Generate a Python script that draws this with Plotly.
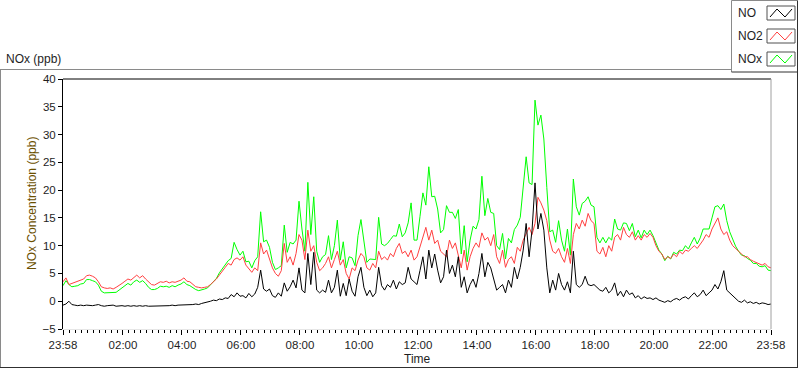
import pandas as pd
import plotly.graph_objects as go

# ---------------- data (6-minute samples from 23:58 to 23:58 next day) ----------------
start_time = "2012-01-01 23:58"
end_time = "2012-01-02 23:58"

no_ppb = [
    -0.7, -0.5, 0.0, -0.6, -0.7, -0.8, -0.7, -0.8, -0.7, -0.8,
    -0.8, -0.7, -0.6, -0.8, -0.9, -0.8, -0.8, -0.7, -0.9, -0.8,
    -0.8, -0.9, -0.8, -0.9, -0.8, -0.9, -0.8, -0.9, -0.8, -0.9,
    -0.9, -0.8, -0.9, -0.8, -0.8, -0.9, -0.8, -0.7, -0.8, -0.7,
    -0.7, -0.7, -0.6, -0.7, -0.6, -0.5, -0.6, -0.4, -0.3, -0.2,
    0.0, 0.2, 0.1, 0.4, 0.3, 0.6, 0.5, 1.2, 0.8, 1.5,
    0.9, 1.0, 0.6, 1.4, 0.8, 1.3, 2.5, 5.6, 2.2, 1.8,
    2.2, 1.0, 0.7, 1.5, 0.9, 3.3, 1.8, 2.6, 3.8, 2.4,
    6.0, 2.0, 1.5, 8.6, 3.0, 8.8, 2.0, 1.5, 2.0, 1.6,
    3.8, 1.5, 2.5, 5.6, 0.9, 3.2, 1.0, 4.0, 1.8, 0.9,
    4.4, 6.1, 2.5, 1.0, 2.0, 0.8, 1.5, 6.1, 2.8, 2.0,
    3.0, 2.5, 3.8, 2.2, 3.5, 3.0, 3.3, 6.1, 4.0, 3.5,
    3.0, 5.5, 8.0, 4.0, 9.2, 6.0, 8.5, 5.6, 3.3, 4.4,
    9.2, 5.0, 6.5, 4.4, 8.0, 2.5, 4.4, 1.5, 3.0, 4.0,
    2.5, 5.0, 8.6, 4.4, 7.0, 6.0, 3.8, 2.0, 2.5, 3.0,
    1.5, 3.8, 2.5, 6.1, 4.0, 6.1, 9.2, 14.0, 8.0, 12.8,
    21.3, 13.0, 15.8, 12.8, 6.0, 1.5, 3.8, 2.0, 5.0, 3.0,
    2.0, 3.5, 1.5, 9.0, 3.0, 2.5, 3.0, 4.5, 3.0, 2.8,
    3.0, 2.5, 2.0, 1.8, 2.5, 1.5, 2.0, 3.3, 1.0, 1.8,
    0.8, 2.0, 1.2, 1.5, 0.6, 1.0, 0.4, 0.8, 0.5, 0.6,
    0.3, 0.6, 0.2, 0.0, -0.2, 0.1, -0.1, 0.3, 0.5, 0.2,
    0.6, 0.8, 0.4, 1.0, 1.5, 0.8, 1.2, 2.0, 1.0, 1.5,
    2.0, 3.0, 2.2, 3.5, 5.5, 2.0, 1.5, 1.0, 0.4, 0.0,
    -0.2, 0.2, -0.3, -0.1, -0.4, -0.2, -0.5, -0.3, -0.4, -0.6,
    -0.5,
]

no2_ppb = [
    3.5, 4.2, 3.0, 3.2, 3.4, 3.6, 3.8, 4.0, 4.6, 4.7,
    4.5, 4.2, 3.5, 2.6, 2.4, 2.3, 2.4, 2.2, 2.5, 2.8,
    3.2, 3.6, 4.0, 3.8, 4.3, 4.7, 4.2, 4.6, 4.0, 3.4,
    3.0, 2.9, 3.2, 3.5, 3.4, 3.6, 3.3, 3.5, 3.4, 3.6,
    3.8, 4.2, 3.6, 3.5, 3.0, 2.6, 2.5, 2.4, 2.5, 2.6,
    3.0, 3.5, 4.0, 4.7, 5.5, 6.1, 6.8, 6.5, 7.5, 7.8,
    7.4, 8.0, 6.5, 5.8, 5.2, 6.0, 5.5, 10.5, 8.5, 9.2,
    7.5, 6.0, 5.0, 4.5, 5.5, 10.4, 7.0, 8.0, 6.5, 8.6,
    12.0, 11.0, 7.5, 12.8, 9.0, 10.0, 7.0, 5.5, 6.0, 6.8,
    8.0, 6.0, 7.5, 9.0, 6.5, 7.5, 5.0, 4.0, 6.0, 5.5,
    7.4, 8.6, 8.0, 6.0, 5.6, 6.8, 6.0, 9.0, 7.5, 8.0,
    7.4, 8.6, 8.0, 9.5, 10.4, 8.6, 9.0, 8.0, 9.2, 7.4,
    8.0, 9.7, 11.5, 13.3, 11.0, 12.8, 10.4, 11.0, 9.0, 8.5,
    8.0, 11.0, 9.5, 10.5, 8.5, 6.0, 9.2, 5.6, 8.0, 9.5,
    10.5, 9.7, 12.3, 11.0, 11.5, 10.0, 12.0, 8.0, 6.8, 9.2,
    6.1, 7.5, 8.0, 6.8, 9.7, 9.0, 11.0, 12.3, 13.3, 12.0,
    14.0, 18.7, 17.7, 16.4, 14.5, 11.0, 9.0, 8.6, 9.5, 8.0,
    7.0, 9.5, 6.8, 12.0, 14.0, 13.0, 14.6, 13.5, 15.8, 14.5,
    14.0, 9.0, 8.5, 9.7, 8.0, 10.0, 9.0, 11.5, 12.0, 11.0,
    13.3, 12.0, 11.5, 12.5, 11.0, 11.8, 11.0, 12.0, 11.5, 12.2,
    11.5, 10.0, 9.0, 8.5, 7.5, 8.0, 7.7, 8.5, 8.0, 9.0,
    8.5, 9.2, 9.0, 9.5, 10.0, 9.5, 10.2, 11.0, 12.0, 11.5,
    13.0, 14.0, 15.0, 13.0, 12.0, 12.5, 11.0, 10.0, 9.5, 9.0,
    8.5, 8.0, 8.0, 7.5, 7.2, 7.0, 6.8, 6.5, 6.8, 6.2,
    6.0,
]

nox_ppb = [
    2.8, 3.7, 3.0, 2.6, 2.7, 2.8, 3.1, 3.2, 3.9, 3.9,
    3.7, 3.5, 2.9, 1.8, 1.5, 1.5, 1.6, 1.5, 1.6, 2.0,
    2.4, 2.7, 3.2, 2.9, 3.5, 3.8, 3.4, 3.7, 3.2, 2.5,
    2.1, 2.1, 2.3, 2.7, 2.6, 2.7, 2.5, 2.8, 2.6, 2.9,
    3.1, 3.5, 3.0, 2.8, 2.4, 2.1, 1.9, 2.0, 2.2, 2.4,
    3.0, 3.7, 4.1, 5.1, 5.8, 6.7, 7.3, 7.7, 10.6, 9.3,
    8.3, 9.0, 7.1, 7.2, 6.0, 7.3, 8.0, 16.1, 10.7, 11.0,
    9.7, 7.0, 5.7, 6.0, 6.4, 13.7, 8.8, 10.6, 10.3, 11.0,
    18.0, 13.0, 9.0, 21.4, 12.0, 18.8, 9.0, 7.0, 8.0, 8.4,
    11.8, 7.5, 10.0, 14.6, 7.4, 10.7, 6.0, 8.0, 7.8, 6.4,
    11.8, 14.7, 10.5, 7.0, 7.6, 7.6, 7.5, 15.1, 10.3, 10.0,
    10.4, 11.1, 11.8, 11.7, 13.9, 11.6, 12.3, 14.1, 17.7, 11.0,
    11.0, 15.2, 19.5, 17.3, 24.2, 18.8, 18.9, 16.6, 12.3, 12.9,
    17.2, 16.0, 16.0, 14.9, 16.5, 8.5, 13.6, 7.1, 11.0, 13.5,
    13.0, 14.7, 22.5, 15.4, 18.5, 16.0, 15.8, 10.0, 9.3, 12.2,
    7.6, 11.3, 10.5, 12.9, 13.7, 15.1, 20.2, 26.0, 21.3, 21.0,
    36.2, 31.7, 33.5, 29.2, 20.5, 12.5, 12.8, 10.6, 14.5, 11.0,
    9.0, 13.0, 8.3, 22.0, 17.0, 15.5, 17.6, 18.0, 18.8, 17.3,
    17.0, 11.5, 10.5, 11.5, 10.5, 11.5, 11.0, 14.8, 13.0, 12.8,
    14.1, 14.0, 12.7, 14.0, 11.6, 12.8, 11.4, 12.8, 12.0, 12.8,
    11.8, 10.6, 9.2, 8.5, 7.3, 8.1, 7.6, 8.8, 8.5, 9.2,
    9.1, 10.0, 9.4, 10.5, 11.5, 10.3, 11.4, 13.0, 13.0, 13.0,
    15.0, 17.0, 17.2, 16.5, 17.5, 14.5, 12.5, 11.0, 9.9, 9.0,
    8.3, 8.2, 7.7, 7.4, 6.8, 6.8, 6.3, 6.2, 6.4, 5.6,
    5.5,
]

tick_times = ["2012-01-01 23:58", "2012-01-02 02:00", "2012-01-02 04:00",
              "2012-01-02 06:00", "2012-01-02 08:00", "2012-01-02 10:00",
              "2012-01-02 12:00", "2012-01-02 14:00", "2012-01-02 16:00",
              "2012-01-02 18:00", "2012-01-02 20:00", "2012-01-02 22:00",
              "2012-01-02 23:58"]
tick_labels = ["23:58", "02:00", "04:00", "06:00", "08:00", "10:00", "12:00",
               "14:00", "16:00", "18:00", "20:00", "22:00", "23:58"]

times = pd.date_range(start_time, periods=len(no_ppb), freq="6min")

# ---------------- geometry (pixels) ----------------
L, R, T, B = 63, 771, 79, 329
W, H = R - L, B - T


def px(x):
    return (x - L) / W


def py(y):
    return (B - y) / H


FONT = "Liberation Sans"
TXT = "#1e1e1e"

fig = go.Figure()
fig.add_trace(go.Scatter(x=times, y=nox_ppb, mode="lines", name="NOx",
                         line=dict(color="#00ff00", width=1)))
fig.add_trace(go.Scatter(x=times, y=no2_ppb, mode="lines", name="NO2",
                         line=dict(color="#ff4040", width=1)))
fig.add_trace(go.Scatter(x=times, y=no_ppb, mode="lines", name="NO",
                         line=dict(color="#000000", width=1)))

shapes = []


def line(x0, y0, x1, y1, color, width=1):
    shapes.append(dict(type="line", xref="paper", yref="paper",
                       x0=px(x0), y0=py(y0), x1=px(x1), y1=py(y1),
                       line=dict(color=color, width=width), layer="above"))


# plot area borders
line(L, T, R, T, "#000000")
line(R, T, R, B, "#a0a0a0")
# outer frame
line(0, 69.5, 731, 69.5, "#8a8a8a")
line(0.5, 69.5, 0.5, 368, "#8a8a8a")
line(0, 367.5, 798, 367.5, "#303030")
line(797.5, 72, 797.5, 368, "#303030")
# legend box
line(731.5, 0.5, 797.5, 0.5, "#8a8a8a")
line(731.5, 0.5, 731.5, 72, "#8a8a8a")
line(731.5, 72, 797.5, 72, "#303030")
line(797.5, 0.5, 797.5, 72, "#303030")

annotations = []
legend_rows = [("NO", "#000000", 13), ("NO2", "#ff4040", 36), ("NOx", "#00ff00", 59)]
for name, col, cy in legend_rows:
    x0, x1 = 767, 795
    y0, y1 = cy - 7, cy + 7
    shapes.append(dict(type="rect", xref="paper", yref="paper",
                       x0=px(x0), y0=py(y1), x1=px(x1), y1=py(y0),
                       line=dict(color="#505050", width=1), fillcolor="white",
                       layer="above"))
    pts = [(x0 + 3, y1 - 3), (x0 + 10, y0 + 3), (x0 + 18, y1 - 3), (x1 - 3, y0 + 3)]
    path = "M " + " L ".join(f"{px(a)},{py(b)}" for a, b in pts)
    shapes.append(dict(type="path", xref="paper", yref="paper", path=path,
                       line=dict(color=col, width=1), layer="above"))
    annotations.append(dict(xref="paper", yref="paper", x=px(736), y=py(cy),
                            xanchor="left", yanchor="middle", showarrow=False,
                            text=name, font=dict(family=FONT, size=12, color=TXT)))

annotations.append(dict(xref="paper", yref="paper", x=px(4), y=py(59),
                        xanchor="left", yanchor="middle", showarrow=False,
                        text="NOx (ppb)", font=dict(family=FONT, size=12, color=TXT)))
annotations.append(dict(xref="paper", yref="paper", x=px(418), y=py(359),
                        xanchor="center", yanchor="middle", showarrow=False,
                        text="Time", font=dict(family=FONT, size=12, color=TXT)))
annotations.append(dict(xref="paper", yref="paper", x=px(32), y=py(204),
                        xanchor="center", yanchor="middle", showarrow=False,
                        textangle=-90, text="NOx Concentration (ppb)",
                        font=dict(family=FONT, size=12, color="#6b5000")))

fig.update_layout(
    width=800, height=369,
    margin=dict(l=L, r=800 - R, t=T, b=369 - B, pad=0),
    paper_bgcolor="white", plot_bgcolor="white",
    showlegend=False,
    font=dict(family=FONT, size=12, color=TXT),
    shapes=shapes, annotations=annotations,
    xaxis=dict(type="date", range=[start_time, end_time],
               tickmode="array", tickvals=tick_times, ticktext=tick_labels,
               ticks="outside", ticklen=5, tickwidth=1, tickcolor="#000000",
               showgrid=False, zeroline=False, showline=True,
               linecolor="#e6e6e6", linewidth=1,
               tickfont=dict(family=FONT, size=11.5, color=TXT),
               minor=dict(tickmode="linear", tick0="2012-01-02 00:00",
                          dtick=12 * 60 * 1000, ticks="outside", ticklen=3,
                          tickcolor="#000000", tickwidth=1, showgrid=False)),
    yaxis=dict(range=[-5, 40], tickmode="linear", tick0=-5, dtick=5,
               ticks="outside", ticklen=4, tickwidth=1, tickcolor="#000000",
               showgrid=False, zeroline=False, showline=True,
               linecolor="#000000", linewidth=1,
               tickfont=dict(family=FONT, size=11.5, color=TXT)),
)

fig.write_html("out.html",
               config={"displayModeBar": False, "staticPlot": True},
               post_script="document.body.style.margin='0';"
                           "document.body.style.overflow='hidden';")
